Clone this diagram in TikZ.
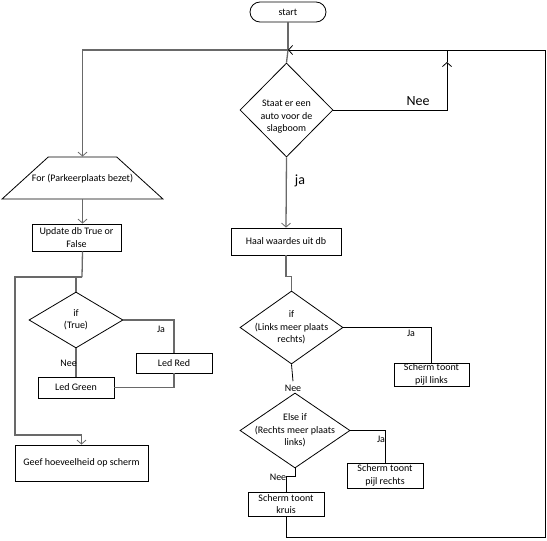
\documentclass[tikz,border=0pt]{standalone}
\usepackage{fontspec}
\setmainfont{Carlito}
\usetikzlibrary{arrows.meta, shapes.geometric, positioning, calc}
\definecolor{linegray}{RGB}{105, 105, 105}

\begin{document}
\begin{tikzpicture}[x=1pt, y=-1pt,
    every node/.style={font=\fontsize{10}{12.5}\selectfont},
    box/.style={draw, line width=0.8pt, rectangle, align=center, inner sep=1pt},
    decision/.style={draw, line width=0.8pt, diamond, inner sep=0pt},
    conn/.style={draw=linegray, line width=1.3pt},
    blackline/.style={draw=black, line width=0.8pt},
    arr/.style={-{Straight Barb[length=4pt, width=9pt, line width=0.8pt]}},
    biglabel/.style={font=\fontsize{14}{16}\selectfont}]
    \useasboundingbox (0,0) rectangle (547,541);

    % begin
    \node[draw, line width=0.8pt, rounded corners=10pt, minimum width=76pt, minimum height=20pt] (start) at (288,12) {start};
    \coordinate (top) at (288,50);
    \node[decision, minimum width=93pt, minimum height=94pt,
        label={[align=center, yshift=-7pt]center:Staat er een\\auto voor de\\slagboom}] (vraag) at (286.5,110) {};
    \coordinate (neeup) at (447,62);
    \coordinate (neetop) at (447,50);

    % linker kolom
    \node[draw, line width=0.8pt, trapezium, trapezium left angle=56, trapezium right angle=56,
        trapezium stretches=true, minimum width=161pt, minimum height=42pt,
        label={[yshift=-1pt]center:For (Parkeerplaats bezet)}] (forloop) at (82.5,178) {};
    \node[box, minimum width=89pt, minimum height=27pt] (update) at (76.5,237.5) {Update db True or\\False};
    \coordinate (split) at (82,277);
    \node[decision, minimum width=94pt, minimum height=56pt,
        label={[align=center]center:if\\(True)}] (iftrue) at (76,320) {};
    \node[box, minimum width=76pt, minimum height=20pt] (ledred) at (174,363) {Led Red};
    \node[box, minimum width=76pt, minimum height=21pt] (ledgreen) at (76,387.5) {Led Green};
    \coordinate (leftrail) at (15,435);
    \node[box, minimum width=133pt, minimum height=36pt] (geef) at (81.5,463) {Geef hoeveelheid op scherm};

    % rechter kolom
    \node[box, minimum width=110pt, minimum height=27pt] (haal) at (286,241.5) {Haal waardes uit db};
    \node[decision, minimum width=103pt, minimum height=73pt,
        label={[align=center]center:if\\(Links meer plaats\\rechts)}] (links) at (291.5,327.5) {};
    \node[box, minimum width=75pt, minimum height=23pt] (pijllinks) at (431.5,374.5) {Scherm toont\\pijl links};
    \node (nee2) at (293,388) {Nee};
    \node[decision, minimum width=110pt, minimum height=75pt,
        label={[align=center]center:Else if\\(Rechts meer plaats\\links)}] (rechts) at (295,430.5) {};
    \node[box, minimum width=76pt, minimum height=25pt] (pijlrechts) at (385,475.5) {Scherm toont\\pijl rechts};
    \node[box, minimum width=76pt, minimum height=24pt] (kruis) at (286,504) {Scherm toont\\kruis};
    \coordinate (loopbot) at (545,537);

    % verbindingen
    \draw[conn] (start) -- (top);
    \draw[conn] (top) -- (vraag.north);
    \draw[conn, arr] (top) -| (forloop.north);
    \draw[blackline, arr] (vraag.east) -| (neeup);
    \draw[blackline] (neeup) -- (neetop);
    \node[biglabel] (neelabel) at (418,101) {Nee};
    \draw[conn, arr] (vraag.south) -- (haal.north);
    \node[biglabel] (jalabel) at (300,181) {ja};

    \draw[conn, arr] (forloop.south) -- (forloop.south |- update.north);
    \draw[conn] (forloop.south |- update.south) -- (split);
    \draw[conn] (split) -| (iftrue.north);
    \draw[conn, arr] (split) -| (leftrail) -| (geef.north);
    \draw[conn] (iftrue.east) -| (ledred.north);
    \node (ja1) at (161,329) {Ja};
    \draw[conn] (iftrue.south) -- (ledgreen.north);
    \node[anchor=east, inner sep=0pt] (nee1) at (77,363) {Nee};
    \draw[conn] (ledred.south) |- (ledgreen.east);

    \draw[conn] (haal.south) -- ++(0,21) -| (links.north);
    \draw[blackline] (links.east) -| (pijllinks.north);
    \node (ja2) at (411,333) {Ja};
    \draw[blackline] (links.south) -- (nee2.north);
    \draw[blackline] (rechts.east) -| (pijlrechts.north);
    \node (ja3) at (381,439) {Ja};
    \draw[blackline] (rechts.south) -- ++(0,8) -| (kruis.north);
    \node (nee3) at (278,477) {Nee};
    \draw[blackline, arr] (kruis.south) |- (loopbot) |- (top);
\end{tikzpicture}
\end{document}
